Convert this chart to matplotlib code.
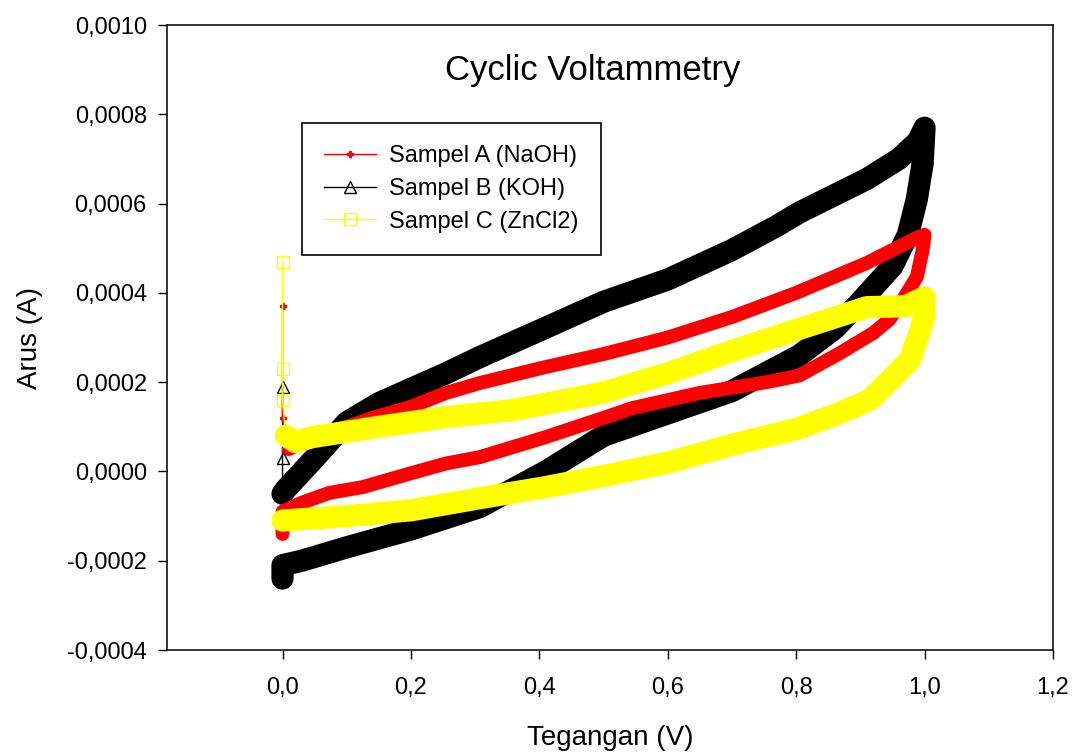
import matplotlib
matplotlib.use('Agg')
import matplotlib.pyplot as plt
from matplotlib.ticker import FuncFormatter

plt.rcParams['font.family'] = ['Liberation Sans', 'DejaVu Sans']

# Sampel A (NaOH): current spike at 0 V, then the CV loop
naoh_spike_i = [0.00037, 0.00012]
naoh_v = [0.01, 0.05, 0.10, 0.14, 0.20, 0.255, 0.307, 0.41, 0.50, 0.60,
          0.70, 0.80, 0.91, 0.99, 1.0, 0.997, 0.988, 0.966, 0.945, 0.92,
          0.868, 0.805, 0.754, 0.65, 0.545, 0.50, 0.41, 0.307, 0.255, 0.20,
          0.125, 0.073, 0.03, 0.0, 0.0]
naoh_i = [0.00005, 0.00008, 0.0001, 0.00012, 0.000145, 0.000176, 0.000198, 0.000234, 0.000263, 0.0003,
          0.000346, 0.0004, 0.000467, 0.000525, 0.00053, 0.000496, 0.000436, 0.000384, 0.00034, 0.00031,
          0.000265, 0.000215, 0.0002, 0.000176, 0.000142, 0.00012, 0.000077, 0.000032, 0.000018, -0.000004,
          -0.000035, -0.000048, -0.00007, -0.00009, -0.00014]

# Sampel B (KOH)
koh_spike_i = [0.00019, 0.00003]
koh_v = [0.0, 0.005, 0.047, 0.10, 0.15, 0.20, 0.255, 0.307, 0.41, 0.50,
         0.60, 0.70, 0.77, 0.805, 0.91, 0.96, 0.99, 1.0,
         0.997, 0.988, 0.974, 0.95, 0.90, 0.86, 0.805, 0.70, 0.60, 0.50,
         0.41, 0.307, 0.20, 0.10, 0.03, 0.0, 0.0]
koh_i = [-0.00005, -0.00004, 0.000025, 0.00011, 0.000153, 0.000185, 0.00022, 0.000256, 0.000322, 0.00038,
         0.00043, 0.000496, 0.00055, 0.00058, 0.000655, 0.0007, 0.00074, 0.00077,
         0.00069, 0.00061, 0.00053, 0.00046, 0.00038, 0.00032, 0.00026, 0.00018, 0.00013, 0.00008,
         0.0, -0.00008, -0.00013, -0.00017, -0.0002, -0.00021, -0.00024]

# Sampel C (ZnCl2)
zncl2_spike_i = [0.00047, 0.00023, 0.00016]
zncl2_v = [0.005, 0.02, 0.047, 0.15, 0.255, 0.36, 0.50, 0.60, 0.70, 0.80,
           0.91, 0.97, 1.0, 1.0, 0.992, 0.977, 0.946, 0.914, 0.866, 0.80,
           0.70, 0.60, 0.50, 0.41, 0.307, 0.20, 0.10, 0.0]
zncl2_i = [0.00008, 0.000066, 0.000077, 0.0001, 0.000122, 0.000138, 0.000177, 0.00022, 0.00027, 0.000317,
           0.000368, 0.00037, 0.00039, 0.00035, 0.00031, 0.00025, 0.000205, 0.00016, 0.00013, 0.000095,
           0.00006, 0.00002, -0.00001, -0.000035, -0.00006, -0.000087, -0.0001, -0.00011]

labels = ['Sampel A (NaOH)', 'Sampel B (KOH)', 'Sampel C (ZnCl2)']


def comma_fmt(decimals):
  def fmt(val, pos):
    return ('{:.%df}' % decimals).format(val).replace('.', ',')
  return fmt


def draw():
  fig = plt.figure(figsize=(10.75, 7.56), dpi=100)
  ax = fig.add_axes([0.1553, 0.1402, 0.8242, 0.8267])

  series = [
    (naoh_spike_i, naoh_v, naoh_i, '#ff0000', 'P', 5, 10, 3),
    (koh_spike_i, koh_v, koh_i, 'black', '^', 9, 16, 2),
    (zncl2_spike_i, zncl2_v, zncl2_i, '#ffff00', 's', 9, 16, 4),
  ]
  for (spike, v, i, color, marker, ms, band, z), label in zip(series, labels):
    # thick band standing in for the overlapping scans
    ax.plot(v, i, color=color, lw=band, solid_joinstyle='round',
            solid_capstyle='round', zorder=z)
    full_v = [0.0] * len(spike) + v
    full_i = spike + i
    if marker == 'P':
      ax.plot(full_v, full_i, color=color, lw=1, marker=marker, ms=ms,
              mfc=color, mec=color, label=label, zorder=z)
    else:
      ax.plot(full_v, full_i, color=color, lw=1, marker=marker, ms=ms,
              mfc='none', mec=color, mew=1, label=label, zorder=z)

  ax.set_xlim(-0.18, 1.2)
  ax.set_ylim(-0.0004, 0.001)
  ax.set_xticks([0.0, 0.2, 0.4, 0.6, 0.8, 1.0, 1.2])
  ax.set_yticks([-0.0004, -0.0002, 0.0, 0.0002, 0.0004, 0.0006, 0.0008, 0.001])
  ax.xaxis.set_major_formatter(FuncFormatter(comma_fmt(1)))
  ax.yaxis.set_major_formatter(FuncFormatter(comma_fmt(4)))
  ax.tick_params(direction='out', length=6.5, width=1, labelsize=17, pad=8)
  ax.tick_params(axis='x', pad=13)
  for s in ax.spines.values():
    s.set_linewidth(1.1)

  ax.set_xlabel('Tegangan (V)', fontsize=20, labelpad=19)
  ax.set_ylabel('Arus (A)', fontsize=20, labelpad=17)
  ax.text(0.481, 0.928, 'Cyclic Voltammetry', transform=ax.transAxes,
          ha='center', va='center', fontsize=25)

  leg = ax.legend(loc='upper left', bbox_to_anchor=(0.1524, 0.8432),
                  borderaxespad=0, fontsize=17, handlelength=2.2,
                  handletextpad=0.55, labelspacing=0.45, borderpad=0.95,
                  fancybox=False, framealpha=1, edgecolor='black')
  leg.get_frame().set_linewidth(1.2)

  fig.savefig('out.png', dpi=100)


if __name__ == '__main__':
  draw()
